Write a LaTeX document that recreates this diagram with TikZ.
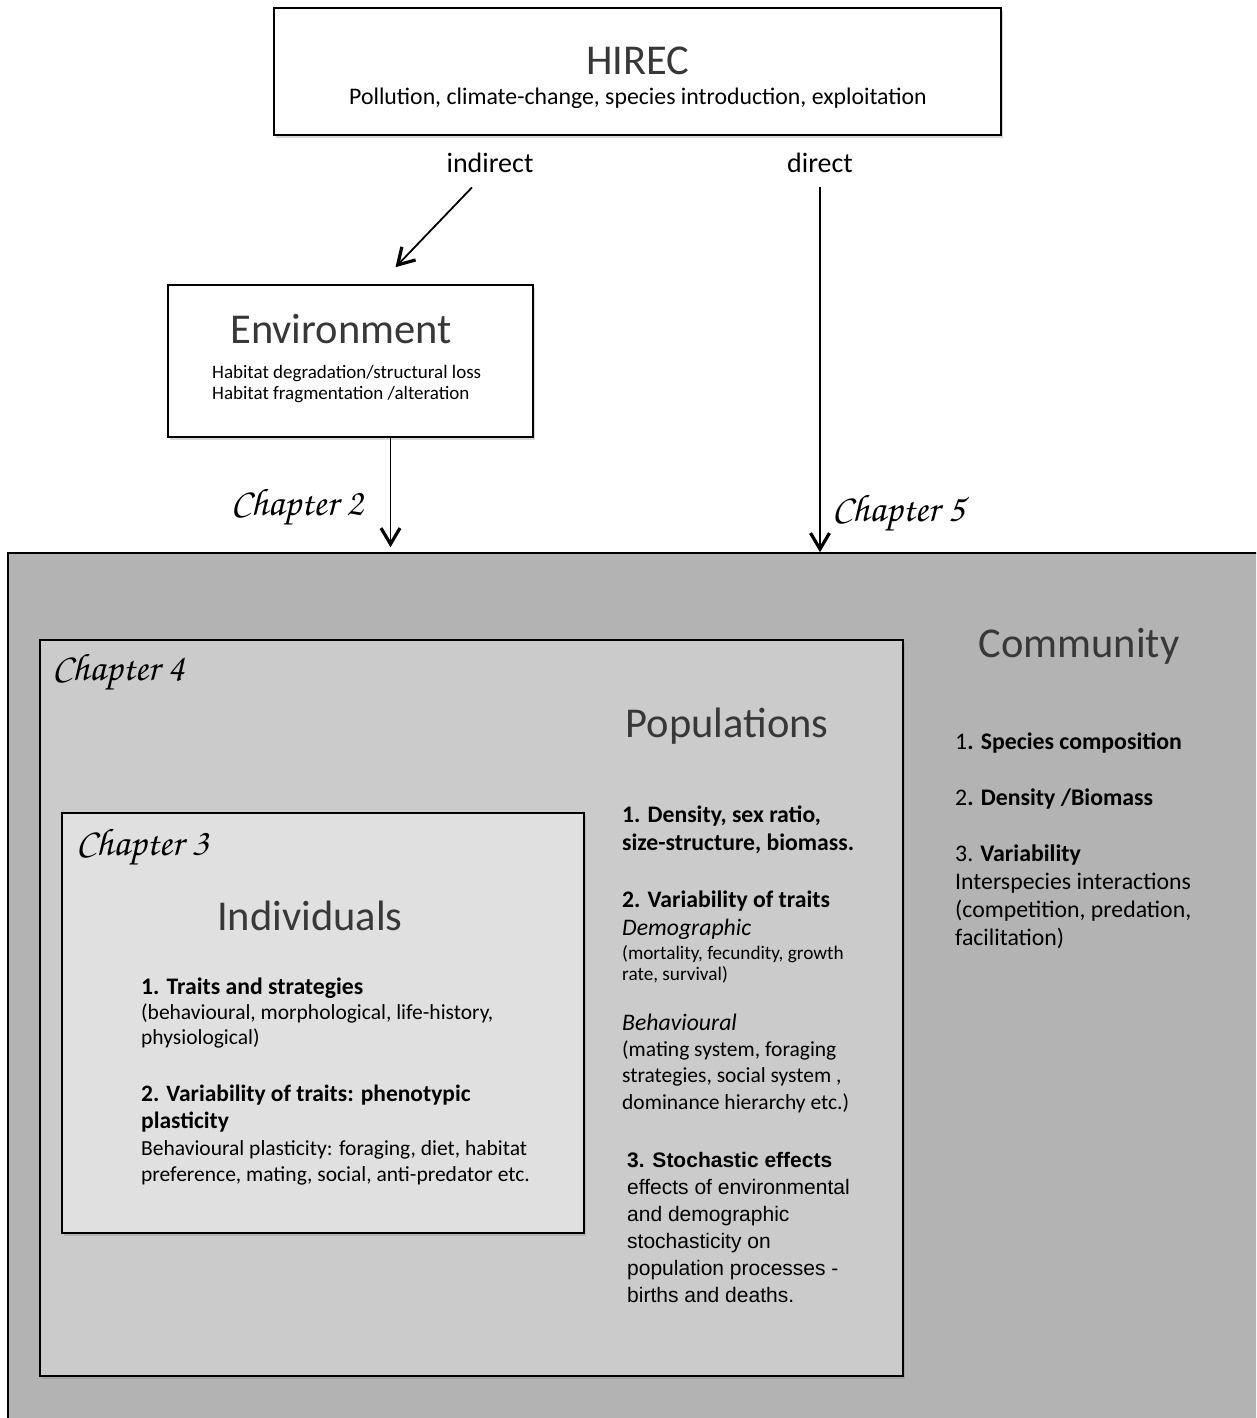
\documentclass[tikz,border=0pt]{standalone}
\usepackage{fontspec}
\setsansfont{Carlito}
\newfontfamily\arialfont{Liberation Sans}
\usetikzlibrary{positioning,arrows.meta,shadows}

\newcommand{\chapfont}{\usefont{OT1}{pzc}{mb}{it}}
\newcommand{\fsz}[2]{\fontsize{#1}{#2}\selectfont}

\definecolor{commgray}{HTML}{B3B3B3}
\definecolor{popgray}{HTML}{CBCBCB}
\definecolor{indgray}{HTML}{E0E0E0}

\begin{document}
\begin{tikzpicture}[
          x=1pt, y=-1pt,
          box/.style={draw=black, line width=1.6pt, inner sep=0pt},
          shade box/.style={box, drop shadow={shadow xshift=2pt, shadow yshift=-3pt, opacity=0.3}},
          title/.style={font=\sffamily\fsz{42.5}{50}, text=black!78, inner sep=0pt, anchor=base},
          lbl/.style={font=\sffamily\fsz{28}{33}, inner sep=0pt, anchor=base},
          chap/.style={font=\chapfont\fsz{38.5}{44}, inner sep=0pt},
          txt/.style={font=\sffamily\fsz{21.5}{26}, align=left, inner sep=0pt, anchor=base west},
          head/.style={txt, font=\sffamily\bfseries\fsz{23.7}{28}},
          arr/.style={line width=1.8pt, -{Straight Barb[length=16pt, width=19pt, line width=3.2pt]}}
      ]
        \clip (0,0) rectangle (1256,1418);
        \fill[white] (0,0) rectangle (1256,1418);

        % boxes
        \node[shade box, fill=white, minimum width=727pt, minimum height=127pt] (hirec) at (637.5,71.5) {};
        \node[shade box, fill=white, minimum width=365pt, minimum height=152pt] (env) at (350.5,361) {};
        \node[box, fill=commgray, minimum width=1258pt, minimum height=877pt] (comm) at (637,991.5) {};
        \node[shade box, fill=popgray, minimum width=863pt, minimum height=736pt] (pop) at (471.5,1008) {};
        \node[shade box, fill=indgray, minimum width=522pt, minimum height=420pt] (ind) at (323,1023) {};

        % HIREC
        \node[title] (hirectitle) at (638,75) {HIREC};
        \node[lbl, font=\sffamily\fsz{23.8}{28}] (hirecsub) at (638,105) {Pollution, climate-change, species introduction, exploitation};
        \node[lbl] (indirect) at (490,172) {indirect};
        \node[lbl] (direct) at (820,172) {direct};

        % Environment
        \node[title] (envtitle) at (341,343) {Environment};
        \node[txt, font=\sffamily\fsz{19}{21}] (envsub) at (212,399) {Habitat degradation/structural loss\\Habitat fragmentation /alteration};

        % chapters
        \node[chap, anchor=base] (chap2) at (297,515) {Chapter 2};
        \node[chap, anchor=base west] (chap5) at (832,521) {Chapter 5};
        \node[chap, anchor=base west] (chap4) at (52,680) {Chapter 4};
        \node[chap, anchor=base west] (chap3) at (76,855) {Chapter 3};

        % Community (multi-line nodes: base = last line)
        \node[title] (commtitle) at (1079,657) {Community};
        \node[txt, font=\sffamily\fsz{23.8}{28}] (commlist) at (955,945)
          {1\textbf{. Species composition}\\[28pt]
           2\textbf{. Density /Biomass}\\[28pt]
           3. \textbf{Variability}\\
           Interspecies interactions\\
           (competition, predation,\\
           facilitation)};

        % Populations
        \node[title] (poptitle) at (727,737) {Populations};
        \node[head] (popA) at (622,850) {1. Density, sex ratio,\\size-structure, biomass.};
        \node[head] (popBhead) at (622,907) {2. Variability of traits};
        \node[head, font=\sffamily\itshape\fsz{23.7}{28}] (popBsub) at (622,935) {Demographic};
        \node[txt, font=\sffamily\fsz{19.2}{21}] (popC) at (622,980)
          {(mortality, fecundity, growth\\rate, survival)};
        \node[head, font=\sffamily\itshape\fsz{23.7}{28}] (popDhead) at (622,1030) {Behavioural};
        \node[txt, font=\sffamily\fsz{21.5}{26.3}] (popD) at (622,1109)
          {(mating system, foraging\\strategies, social system ,\\dominance hierarchy etc.)};
        \node[txt, font=\arialfont\fsz{21}{27}] (popE) at (627,1302)
          {\textbf{3. Stochastic effects}\\effects of environmental\\and demographic\\stochasticity on\\population processes -\\births and deaths.};

        % Individuals
        \node[title] (indtitle) at (310,930) {Individuals};
        \node[head] (indAhead) at (141,994) {1. Traits and strategies};
        \node[txt, font=\sffamily\fsz{21.5}{24.5}] (indA) at (141,1044)
          {(behavioural, morphological, life-history,\\physiological)};
        \node[head, font=\sffamily\bfseries\fsz{23.5}{27}] (indBhead) at (141,1128)
          {2. Variability of traits: phenotypic\\plasticity};
        \node[txt, font=\sffamily\fsz{21.5}{26}] (indB) at (141,1181)
          {Behavioural plasticity: foraging, diet, habitat\\preference, mating, social, anti-predator etc.};

        % arrows
        \draw[arr] ([shift={(-18pt,-15pt)}]indirect.south) -- ([shift={(45pt,17pt)}]env.north);
        \draw[arr] ([yshift=-15pt]direct.south) -- (direct.south |- comm.north);
        \draw[arr, shorten >=5pt] ([xshift=40pt]env.south) -- ([xshift=40pt]env.south |- comm.north);
      \end{tikzpicture}
\end{document}
